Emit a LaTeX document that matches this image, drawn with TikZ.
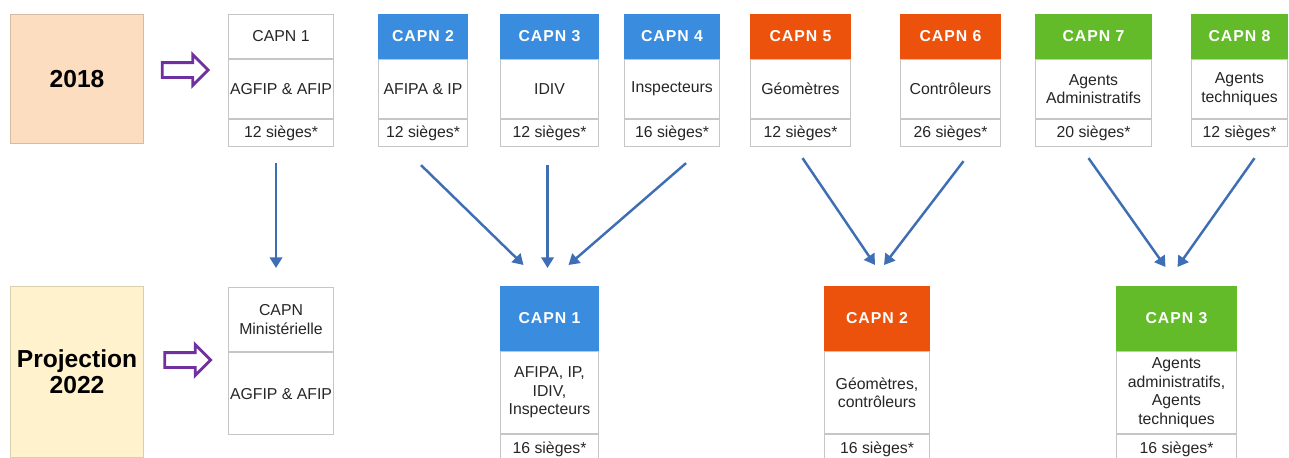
\documentclass[tikz,border=0pt]{standalone}
\usepackage{fontspec}
\setmainfont{Liberation Sans}
\newfontfamily\hdfont[LetterSpace=6]{Liberation Sans}
\usepackage{tikz}
\usetikzlibrary{arrows.meta,calc,shapes.arrows,positioning}
\definecolor{CapBleu}{RGB}{58,141,222}
\definecolor{CapOrange}{RGB}{236,82,11}
\definecolor{CapVert}{RGB}{100,187,42}
\definecolor{FlecheBleu}{RGB}{62,110,180}
\definecolor{Violet}{RGB}{112,48,160}
\definecolor{Peche}{RGB}{252,221,191}
\definecolor{Creme}{RGB}{255,242,204}

\tikzset{
  cell/.style={draw=gray!45, line width=0.6pt, fill=white, inner sep=1pt, align=center,
    font=\fontsize{9}{10.5}\selectfont, text=black!85},
  hd/.style={cell, minimum width=#1, minimum height=0.88cm, anchor=north west},
  hdb/.style={cell, minimum width=#1, minimum height=1.28cm, anchor=north west},
  bd/.style={cell, minimum width=#1, minimum height=1.18cm, anchor=north},
  bdb/.style={cell, minimum width=#1, minimum height=1.64cm, anchor=north},
  st/.style={cell, minimum width=#1, minimum height=0.54cm, anchor=north},
  stb/.style={cell, minimum width=#1, minimum height=0.5cm, anchor=north, text depth=0pt, text height=7pt},
  bleu/.style={fill=CapBleu, draw=CapBleu, text=white, font=\hdfont\bfseries\fontsize{9}{10}\selectfont},
  orange/.style={fill=CapOrange, draw=CapOrange, text=white, font=\hdfont\bfseries\fontsize{9}{10}\selectfont},
  vert/.style={fill=CapVert, draw=CapVert, text=white, font=\hdfont\bfseries\fontsize{9}{10}\selectfont},
  annee/.style={anchor=north west, minimum width=2.66cm, line width=0.6pt, align=center,
    font=\bfseries\fontsize{14}{15}\selectfont},
  fleche/.style={single arrow, draw=Violet, line width=1.6pt, fill=white, inner xsep=0pt,
    inner ysep=0.12cm, minimum height=0.92cm, single arrow head extend=0.16cm},
  lien/.style={draw=FlecheBleu, line width=1.4pt, -{Triangle[length=6pt,width=7pt]}}
}

\begin{document}
\begin{tikzpicture}[x=0.02cm,y=-0.02cm]
\clip (0,0) rectangle (1289,457);
% annees
\node[annee, fill=Peche, draw=Peche!85!black, minimum height=2.58cm] (y18) at (10,14) {2018};
\node[annee, fill=Creme, draw=Creme!85!black, minimum height=3.42cm] (y22) at (10,286) {Projection\\2022};
\node[fleche] (f18) at (181.5,70) {};
\node[fleche] (f22) at (184,360) {};
%
% 2018
\node[hd=2.1cm] (h1) at (228,14) {CAPN 1};
\node[bd=2.1cm] (b1) at (h1.south) {AGFIP \& AFIP};
\node[st=2.1cm] (s1) at (b1.south) {12 sièges*};
\node[hd=1.78cm, bleu] (h2) at (378,14) {CAPN 2};
\node[bd=1.78cm] (b2) at (h2.south) {AFIPA \& IP};
\node[st=1.78cm] (s2) at (b2.south) {12 sièges*};
\node[hd=1.96cm, bleu] (h3) at (500,14) {CAPN 3};
\node[bd=1.96cm] (b3) at (h3.south) {IDIV};
\node[st=1.96cm] (s3) at (b3.south) {12 sièges*};
\node[hd=1.9cm, bleu] (h4) at (624,14) {CAPN 4};
\node[bd=1.9cm] (b4) at (h4.south) {Inspecteurs};
\node[st=1.9cm] (s4) at (b4.south) {16 sièges*};
\node[hd=2cm, orange] (h5) at (750,14) {CAPN 5};
\node[bd=2cm] (b5) at (h5.south) {Géomètres};
\node[st=2cm] (s5) at (b5.south) {12 sièges*};
\node[hd=2cm, orange] (h6) at (900,14) {CAPN 6};
\node[bd=2cm] (b6) at (h6.south) {Contrôleurs};
\node[st=2cm] (s6) at (b6.south) {26 sièges*};
\node[hd=2.32cm, vert] (h7) at (1035,14) {CAPN 7};
\node[bd=2.32cm] (b7) at (h7.south) {Agents\\Administratifs};
\node[st=2.32cm] (s7) at (b7.south) {20 sièges*};
\node[hd=1.92cm, vert] (h8) at (1191,14) {CAPN 8};
\node[bd=1.92cm] (b8) at (h8.south) {Agents\\techniques};
\node[st=1.92cm] (s8) at (b8.south) {12 sièges*};
%
% 2022
\node[hdb=2.1cm] (n0) at (228,287) {CAPN\\Ministérielle};
\node[bdb=2.1cm] (m0) at (n0.south) {AGFIP \& AFIP};
\node[hdb=1.96cm, bleu] (n1) at (500,286) {CAPN 1};
\node[bdb=1.96cm] (m1) at (n1.south) {AFIPA, IP,\\IDIV,\\Inspecteurs};
\node[stb=1.96cm] (t1) at (m1.south) {16 sièges*};
\node[hdb=2.1cm, orange] (n2) at (824,286) {CAPN 2};
\node[bdb=2.1cm] (m2) at (n2.south) {Géomètres,\\contrôleurs};
\node[stb=2.1cm] (t2) at (m2.south) {16 sièges*};
\node[hdb=2.4cm, vert] (n3) at (1116,286) {CAPN 3};
\node[bdb=2.4cm] (m3) at (n3.south) {Agents\\administratifs,\\Agents\\techniques};
\node[stb=2.4cm] (t3) at (m3.south) {16 sièges*};
%
% fusions
\draw[lien] ($(s1.south)+(-5,16)$) -- ($(n0.north)+(-5,-19)$);
\draw[lien] ($(s2.south)+(-2,18)$) -- ($(n1.north)+(-26,-21)$);
\draw[lien] ($(s3.south)+(-2,18)$) -- ($(n1.north)+(-2,-18)$);
\draw[lien] ($(s4.south)+(14,16)$) -- ($(n1.north)+(19,-21)$);
\draw[lien] ($(s5.south)+(2,11)$) -- ($(n2.north)+(-2,-21)$);
\draw[lien] ($(s6.south)+(13,14)$) -- ($(n2.north)+(7,-21)$);
\draw[lien] ($(s7.south)+(-5,11)$) -- ($(n3.north)+(-11,-19)$);
\draw[lien] ($(s8.south)+(15,11)$) -- ($(n3.north)+(1,-19)$);
\end{tikzpicture}
\end{document}
